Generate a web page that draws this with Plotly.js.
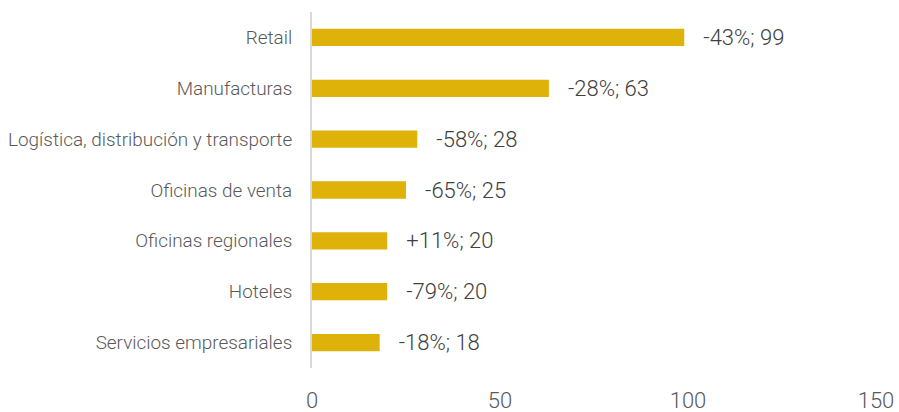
<!DOCTYPE html>
<html>
<head>
<meta charset="utf-8">
<script src="https://cdn.plot.ly/plotly-3.0.1.min.js"></script>
<style>html,body{margin:0;padding:0;background:#fff;}#chart{width:899px;height:412px;}</style>
</head>
<body>
<div id="chart"></div>
<script>
const categories = ["Retail", "Manufacturas", "Logística, distribución y transporte", "Oficinas de venta", "Oficinas regionales", "Hoteles", "Servicios empresariales"];
const values = [99, 63, 28, 25, 20, 20, 18];
const changes = ["-43%", "-28%", "-58%", "-65%", "+11%", "-79%", "-18%"];
const xTicks = [0, 50, 100, 150];

const labels = values.map((v, i) => "\u00a0\u00a0\u00a0" + changes[i] + "; " + v);

const trace = {
  type: "bar",
  orientation: "h",
  y: categories,
  x: values,
  text: labels,
  textposition: "outside",
  constraintext: "none",
  cliponaxis: false,
  textfont: {family: "Roboto, sans-serif", size: 22, color: "#404040", weight: 300},
  marker: {color: "#DEB208"},
  hoverinfo: "none"
};

const layout = {
  width: 899, height: 412,
  margin: {l: 312, r: 23, t: 12, b: 44},
  paper_bgcolor: "#fff", plot_bgcolor: "#fff",
  showlegend: false,
  bargap: 0.66,
  font: {family: "Roboto, sans-serif", color: "#595959", weight: 300},
  xaxis: {
    range: [0, 150],
    tickvals: xTicks,
    ticktext: xTicks.map(String),
    showgrid: false,
    zeroline: false,
    showline: false,
    ticks: "outside", ticklen: 13, tickcolor: "rgba(0,0,0,0)",
    tickfont: {size: 22, color: "#595959", family: "Roboto, sans-serif", weight: 300},
    automargin: false,
    fixedrange: true
  },
  yaxis: {
    autorange: "reversed",
    showgrid: false,
    zeroline: false,
    showline: true, linecolor: "#d9d9d9", linewidth: 2,
    ticks: "outside", ticklen: 14, tickcolor: "rgba(0,0,0,0)",
    tickfont: {size: 18.9, color: "#595959", family: "Roboto, sans-serif", weight: 300},
    automargin: false,
    fixedrange: true
  }
};

Plotly.newPlot("chart", [trace], layout, {staticPlot: true, displayModeBar: false});
</script>
</body>
</html>
